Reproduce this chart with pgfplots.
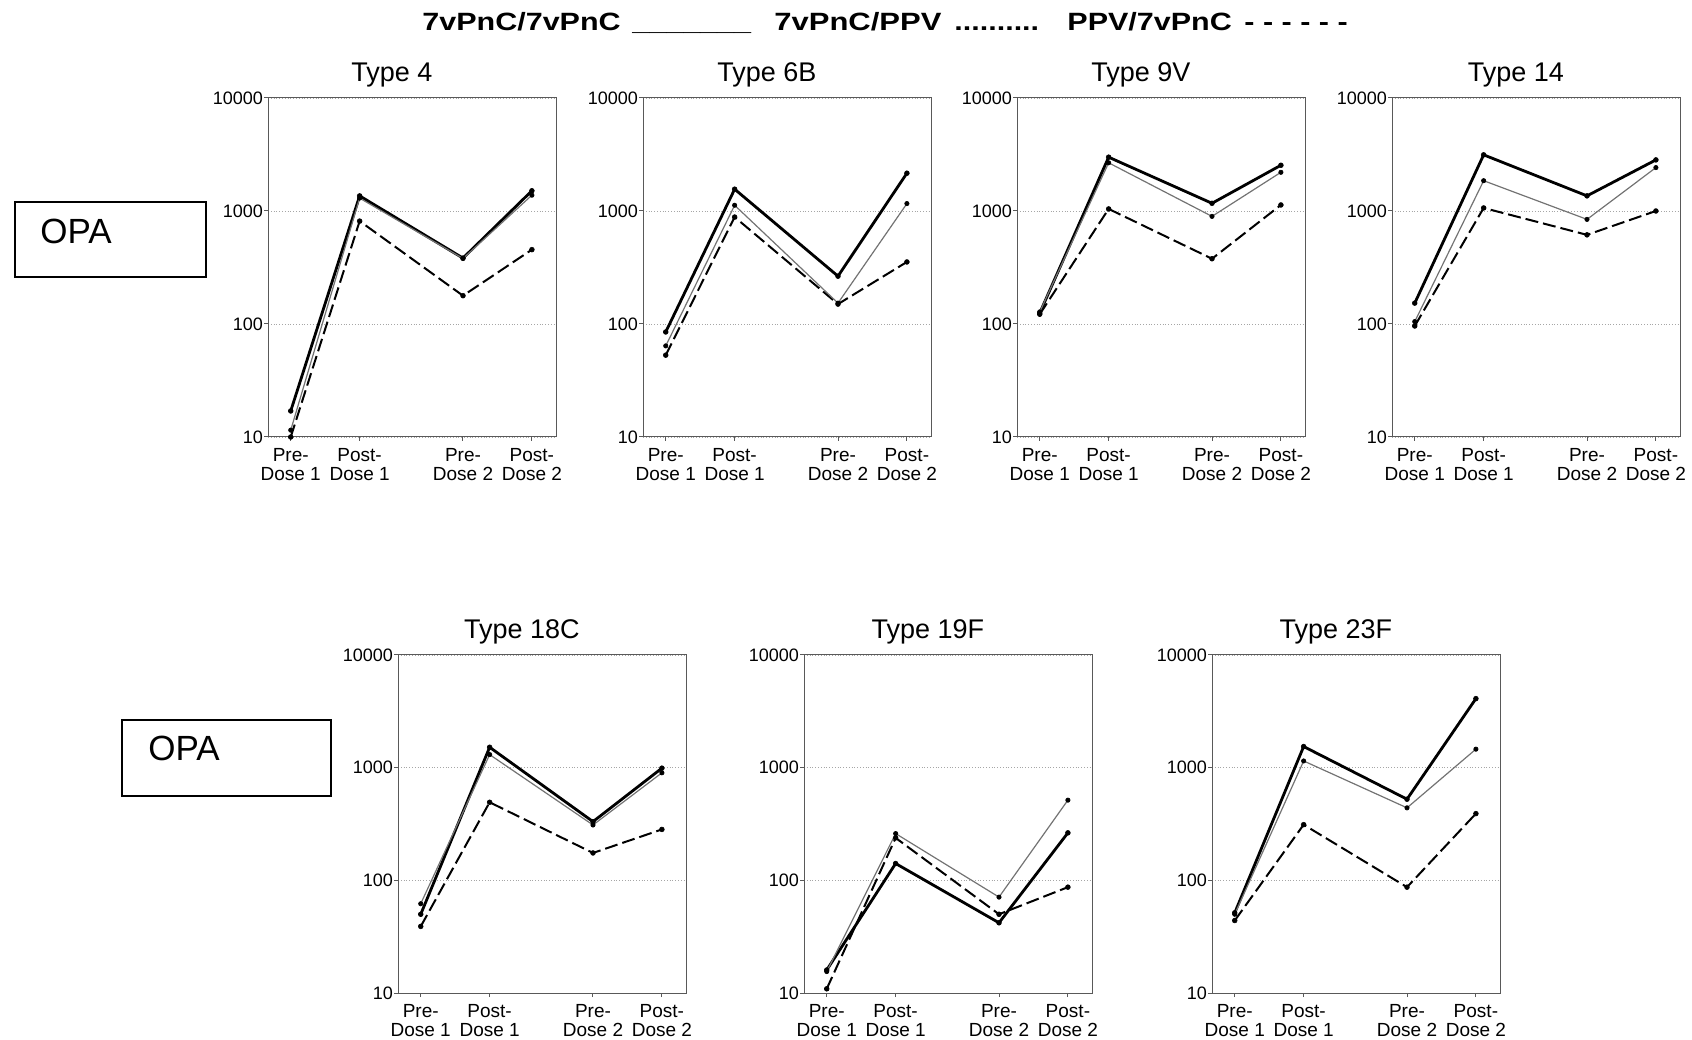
\documentclass[border=0pt]{standalone}
\usepackage{pgfplots}
\pgfplotsset{compat=1.18}
\usepackage{pgfplotstable}
\usepackage{fontspec}
\setmainfont{Liberation Sans}
\usepackage{graphicx}

% columns: x = visit position, s = 7vPnC/7vPnC, t = 7vPnC/PPV, d = PPV/7vPnC
\pgfplotstableread{
x s t d
0 17 11.5 10
1 1360 1300 814
2.5 383 380 178
3.5 1510 1380 455
}\typeFour
\pgfplotstableread{
x s t d
0 85 64 53
1 1560 1124 884
2.5 265 153 150
3.5 2160 1163 354
}\typeSixB
\pgfplotstableread{
x s t d
0 125 128 122
1 2995 2670 1043
2.5 1170 896 378
3.5 2540 2200 1131
}\typeNineV
\pgfplotstableread{
x s t d
0 153 105 96
1 3140 1854 1064
2.5 1361 843 615
3.5 2833 2421 1000
}\typeFourteen
\pgfplotstableread{
x s t d
0 50 62 39
1 1518 1306 493
2.5 332 310 175
3.5 990 900 283
}\typeEighteenC
\pgfplotstableread{
x s t d
0 16 15.5 10.9
1 141 260 238
2.5 42 71 50
3.5 264 515 87
}\typeNineteenF
\pgfplotstableread{
x s t d
0 51.5 50 44
1 1540 1147 312
2.5 525 440 87
3.5 4100 1460 391
}\typeTwentyThreeF

\tikzset{
 thk/.style={black, line width=1.4pt, mark=*, mark size=1.2pt, mark options={solid, line width=0.3pt}},
 thn/.style={black!55, line width=0.6pt, mark=*, mark size=1.1pt, mark options={solid, fill=black, draw=black, line width=0.3pt}},
 dsh/.style={black, line width=1pt, dash pattern=on 6.5pt off 2.5pt, mark=*, mark size=1.2pt, mark options={solid, line width=0.3pt}},
}

% #1 x, #2 y (north west corner), #3 height, #4 title, #5 table
\newcommand{\opapanel}[5]{%
\begin{axis}[
  ymode=log,
  scale only axis, width=144pt, height=#3,
  at={(#1,#2)}, anchor=north west,
  ymin=10, ymax=10000,
  xmin=-0.33, xmax=3.85,
  xtick={0,1,2.5,3.5},
  xticklabels={{Pre-\\Dose 1},{Post-\\Dose 1},{Pre-\\Dose 2},{Post-\\Dose 2}},
  ytick={10,100,1000,10000},
  yticklabels={10,100,1000,10000},
  yminorticks=false,
  tick align=outside, major tick length=2pt,
  xtick pos=lower, ytick pos=left,
  ymajorgrids, major grid style={densely dotted, gray!70},
  axis line style={gray!70!black, line width=0.5pt},
  tick style={gray!70!black, line width=0.5pt},
  xticklabel style={align=center, font=\fontsize{9.5}{9.9}\selectfont, text=black},
  yticklabel style={font=\fontsize{9}{10}\selectfont, xshift=3pt},
  title style={at={(0.43,1)}, anchor=base, yshift=2pt, font=\fontsize{13.5}{15}\selectfont},
  title={#4},
]
\addplot[thk] table[x=x,y=s]{#5};
\addplot[dsh] table[x=x,y=d]{#5};
\addplot[thn] table[x=x,y=t]{#5};
\end{axis}%
}

\begin{document}
\begin{tikzpicture}
\path[use as bounding box] (0,0) rectangle (846pt,519.5pt);

% top row
\opapanel{134pt}{470.5pt}{169.5pt}{Type 4}{\typeFour}
\opapanel{321.5pt}{470.5pt}{169.5pt}{Type 6B}{\typeSixB}
\opapanel{508.5pt}{470.5pt}{169.5pt}{Type 9V}{\typeNineV}
\opapanel{696pt}{470.5pt}{169.5pt}{Type 14}{\typeFourteen}

% bottom row
\opapanel{199pt}{192pt}{169pt}{Type 18C}{\typeEighteenC}
\opapanel{402pt}{192pt}{169pt}{Type 19F}{\typeNineteenF}
\opapanel{606pt}{192pt}{169pt}{Type 23F}{\typeTwentyThreeF}

% header legend
\begin{scope}[every node/.style={anchor=base west, inner sep=0pt, font=\fontsize{12.5}{14}\selectfont\bfseries}]
\node at (211pt,504pt) {\scalebox{1.22}[1]{7vPnC/7vPnC}};
\node at (316pt,504pt) {\scalebox{1.22}[1]{\_\_\_\_\_\_\_}};
\node at (387pt,504pt) {\scalebox{1.24}[1]{7vPnC/PPV}};
\node at (477pt,504pt) {\scalebox{1.22}[1]{..........}};
\node at (533.5pt,504pt) {\scalebox{1.22}[1]{PPV/7vPnC}};
\node at (622pt,504pt) {\scalebox{1.22}[1]{- - - - - -}};
\end{scope}

% OPA boxes
\draw[line width=0.8pt] (7.5pt,381pt) rectangle (103pt,418.5pt);
\node[anchor=west, inner sep=0pt, font=\fontsize{17.5}{19}\selectfont] at (20pt,404pt) {OPA};
\draw[line width=0.8pt] (61pt,121.5pt) rectangle (165.5pt,159.5pt);
\node[anchor=west, inner sep=0pt, font=\fontsize{17.5}{19}\selectfont] at (74pt,145.5pt) {OPA};
\end{tikzpicture}
\end{document}
